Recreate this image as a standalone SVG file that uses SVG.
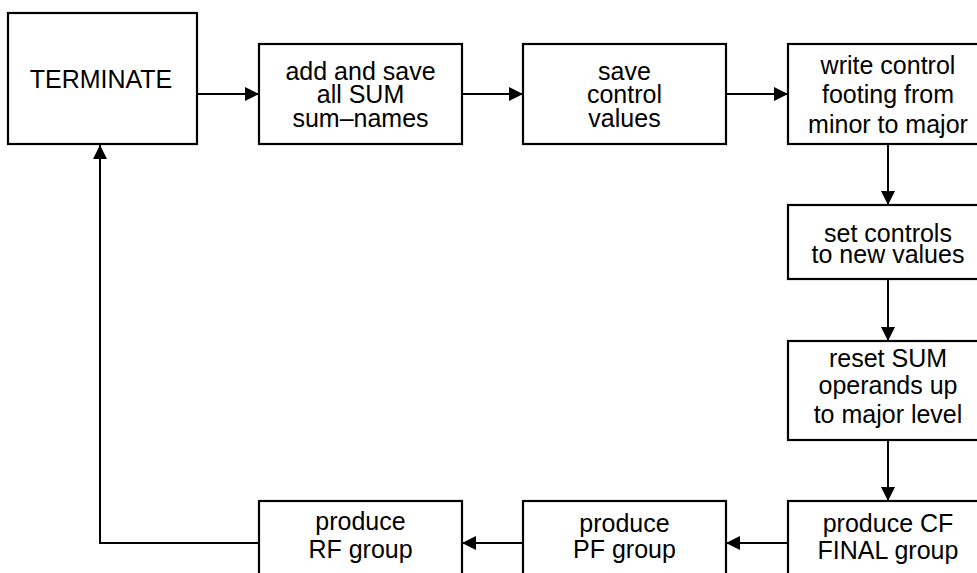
<svg xmlns="http://www.w3.org/2000/svg" width="977" height="573" viewBox="0 0 977 573">
<style>
.box{fill:#fff;stroke:#000;stroke-width:2.2}
.t{font-family:"Liberation Sans",Arial,sans-serif;font-size:25px;fill:#000;text-anchor:middle}
.c{fill:none;stroke:#000;stroke-width:2}
</style>
<defs>
<marker id="ah" markerUnits="userSpaceOnUse" markerWidth="15" markerHeight="15" refX="14" refY="7" orient="auto" viewBox="0 0 15 14">
<path d="M0,0 L14,7 L0,14 z" fill="#000"/>
</marker>
</defs>
<g id="connectors">
<line class="c" x1="197" y1="94" x2="259" y2="94" marker-end="url(#ah)"/>
<line class="c" x1="462" y1="94" x2="523" y2="94" marker-end="url(#ah)"/>
<line class="c" x1="726" y1="94" x2="788" y2="94" marker-end="url(#ah)"/>
<line class="c" x1="888" y1="144" x2="888" y2="205" marker-end="url(#ah)"/>
<line class="c" x1="888" y1="279" x2="888" y2="341" marker-end="url(#ah)"/>
<line class="c" x1="888" y1="440" x2="888" y2="501" marker-end="url(#ah)"/>
<line class="c" x1="788" y1="543" x2="726" y2="543" marker-end="url(#ah)"/>
<line class="c" x1="523" y1="543" x2="462" y2="543" marker-end="url(#ah)"/>
<polyline class="c" points="259,543 100,543 100,145" marker-end="url(#ah)"/>
</g>
<g id="terminate">
<rect class="box" x="8" y="13" width="189" height="131"/>
<text class="t" x="101" y="88">TERMINATE</text>
</g>
<g id="add-save">
<rect class="box" x="259" y="44" width="203" height="100"/>
<text class="t" x="360.5" y="80">add and save</text>
<text class="t" x="360.5" y="103">all SUM</text>
<text class="t" x="360.5" y="127">sum–names</text>
</g>
<g id="save-control">
<rect class="box" x="523" y="44" width="203" height="100"/>
<text class="t" x="624.5" y="80">save</text>
<text class="t" x="624.5" y="103">control</text>
<text class="t" x="624.5" y="127">values</text>
</g>
<g id="write-footing">
<rect class="box" x="788" y="44" width="202" height="100"/>
<text class="t" x="888" y="74">write control</text>
<text class="t" x="888" y="103">footing from</text>
<text class="t" x="888" y="133">minor to major</text>
</g>
<g id="set-controls">
<rect class="box" x="788" y="205" width="202" height="74"/>
<text class="t" x="888" y="242">set controls</text>
<text class="t" x="888" y="263">to new values</text>
</g>
<g id="reset-sum">
<rect class="box" x="788" y="341" width="202" height="99"/>
<text class="t" x="888" y="367">reset SUM</text>
<text class="t" x="888" y="394">operands up</text>
<text class="t" x="888" y="423">to major level</text>
</g>
<g id="produce-cf">
<rect class="box" x="788" y="501" width="202" height="100"/>
<text class="t" x="888" y="532">produce CF</text>
<text class="t" x="888" y="559">FINAL group</text>
</g>
<g id="produce-pf">
<rect class="box" x="523" y="501" width="203" height="100"/>
<text class="t" x="624.5" y="532">produce</text>
<text class="t" x="624.5" y="558">PF group</text>
</g>
<g id="produce-rf">
<rect class="box" x="259" y="501" width="203" height="100"/>
<text class="t" x="360.5" y="530">produce</text>
<text class="t" x="360.5" y="558">RF group</text>
</g>
</svg>
